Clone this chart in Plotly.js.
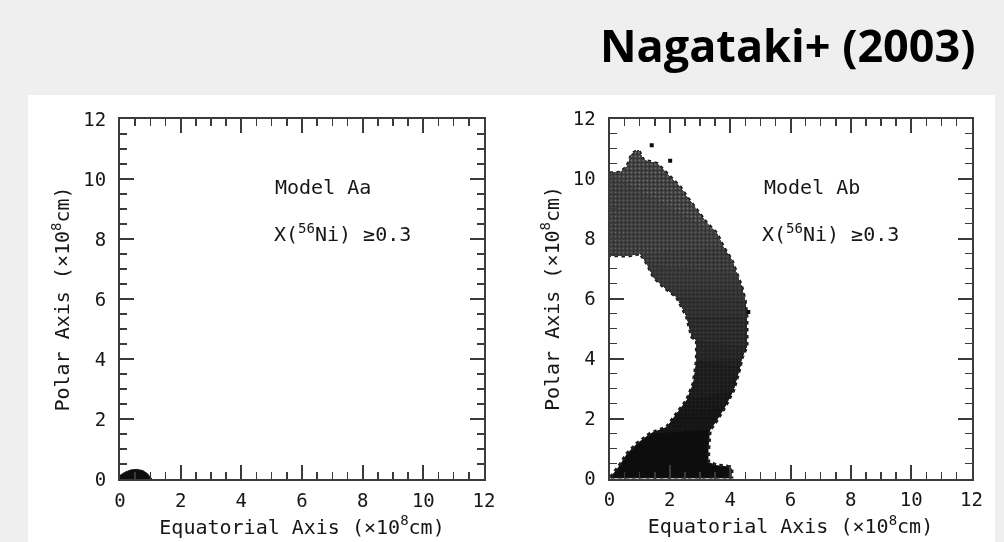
<!DOCTYPE html>
<html>
<head>
<meta charset="utf-8">
<script src="https://cdn.plot.ly/plotly-3.0.1.min.js"></script>
<style>
  html, body { margin: 0; padding: 0; background: #efefef; }
  #chart { width: 1004px; height: 542px; }
</style>
</head>
<body>
<div id="chart"></div>
<script>
// Model Aa: region with X(56Ni) >= 0.3 (units of 1e8 cm)
const modelAaX = [0, 0, 0.15, 0.35, 0.55, 0.75, 0.9, 1.0, 1.05, 0];
const modelAaY = [0, 0.12, 0.22, 0.30, 0.32, 0.28, 0.18, 0.08, 0, 0];

// Model Ab: outer edge of the 56Ni shell, from the pole down to the equator
const modelAbOuterX = [0, 0.12, 0.35, 0.58, 0.75, 0.96, 1.13, 1.57, 2.01, 2.34, 2.56, 2.89, 3.23, 3.56, 3.77,
  4.05, 4.22, 4.38, 4.49, 4.55, 4.55, 4.55, 4.38, 4.33, 4.11, 3.83, 3.56, 3.33, 3.28, 3.28, 3.56, 3.89, 4.05, 4.05];
const modelAbOuterY = [10.18, 10.18, 10.2, 10.39, 10.83, 10.94, 10.61, 10.5, 10.05, 9.72, 9.39, 8.94, 8.5, 8.17, 7.72,
  7.28, 6.83, 6.39, 5.94, 5.4, 4.94, 4.4, 4.0, 3.72, 2.94, 2.39, 1.94, 1.61, 0.94, 0.55, 0.44, 0.41, 0.33, 0];

// Model Ab: inner edge, from the equator back up to the pole
const modelAbInnerX = [0, 0.08, 0.3, 0.58, 0.91, 1.35, 1.9, 2.23, 2.56, 2.78, 2.89, 2.89, 2.73, 2.56, 2.23,
  1.79, 1.46, 1.24, 1.02, 0.6, 0];
const modelAbInnerY = [0, 0.11, 0.39, 0.83, 1.17, 1.5, 1.72, 2.17, 2.61, 3.17, 3.94, 4.61, 4.72, 5.39, 6.05,
  6.39, 6.72, 7.17, 7.5, 7.42, 7.44];

// Isolated cells outside the main shell
const strayX = [1.40, 2.01, 4.60];
const strayY = [11.11, 10.59, 5.55];

const tickVals = [0, 2, 4, 6, 8, 10, 12];
const tickText = ['0', '2', '4', '6', '8', '10', '12'];

const figTitle = 'Nagataki+ (2003)';
const xTitle = 'Equatorial Axis (×10<sup>8</sup>cm)';
const yTitle = 'Polar Axis (×10<sup>8</sup>cm)';
const modelLabels = ['Model Aa', 'Model Ab'];
const niLabel = 'X(<sup>56</sup>Ni) ≥0.3';

// shading bands for the Model Ab shell: lower y cut, fill colour, dot colour
const bandCuts = [1.4, 2.0, 2.6, 3.2, 3.8, 4.4, 5.0, 5.6, 6.2, 6.8, 7.4];
const bandColors = ['#111111', '#151515', '#191919', '#1d1d1d', '#212121', '#252525', '#292929', '#2c2c2c',
  '#2f2f2f', '#303030', '#313131'];
const bandDots = ['#1c1c1c', '#222222', '#282828', '#2e2e2e', '#343434', '#3a3a3a', '#404040', '#454545',
  '#4a4a4a', '#545454', '#5f5f5f'];
const capCut = 8.0;

const INK = '#161616';
const FRAME = '#3a3a3a';
const MONO = 'DejaVu Sans Mono, monospace';

// polygon of the shell part above a cut
function shellAbove(cut) {
  const xs = [], ys = [];
  modelAbOuterX.forEach((x, i) => { if (modelAbOuterY[i] >= cut) { xs.push(x); ys.push(modelAbOuterY[i]); } });
  modelAbInnerX.forEach((x, i) => { if (modelAbInnerY[i] >= cut) { xs.push(x); ys.push(modelAbInnerY[i]); } });
  xs.push(xs[0]); ys.push(ys[0]);
  return { x: xs, y: ys };
}

const traces = [];

traces.push({
  x: modelAaX, y: modelAaY, xaxis: 'x', yaxis: 'y',
  type: 'scatter', mode: 'lines', fill: 'toself',
  fillcolor: '#0c0c0c', line: { width: 1, color: '#0c0c0c' }, hoverinfo: 'skip'
});

// full shell, with a beaded edge like the cell grid
traces.push({
  x: modelAbOuterX.concat(modelAbInnerX), y: modelAbOuterY.concat(modelAbInnerY),
  xaxis: 'x2', yaxis: 'y2', type: 'scatter', mode: 'lines', fill: 'toself',
  fillcolor: '#0a0a0a', line: { width: 3.5, color: '#1c1c1c', dash: 'dot' }, hoverinfo: 'skip'
});

bandCuts.forEach((cut, k) => {
  const p = shellAbove(cut);
  traces.push({
    x: p.x, y: p.y, xaxis: 'x2', yaxis: 'y2', type: 'scatter', mode: 'lines', fill: 'toself',
    fillcolor: bandColors[k], line: { width: 0 },
    fillpattern: { shape: '.', bgcolor: bandColors[k], fgcolor: bandDots[k], size: 4, solidity: 0.3 },
    hoverinfo: 'skip'
  });
});

const cap = shellAbove(capCut);
traces.push({
  x: cap.x, y: cap.y, xaxis: 'x2', yaxis: 'y2', type: 'scatter', mode: 'lines', fill: 'toself',
  fillcolor: '#333333', line: { width: 0 },
  fillpattern: { shape: '.', bgcolor: '#323232', fgcolor: '#6e6e6e', size: 4, solidity: 0.3 },
  hoverinfo: 'skip'
});

traces.push({
  x: strayX, y: strayY, xaxis: 'x2', yaxis: 'y2', type: 'scatter', mode: 'markers',
  marker: { symbol: 'square', size: 4, color: '#111' }, hoverinfo: 'skip'
});

function axisBase(domain, anchor) {
  return {
    domain: domain, anchor: anchor, range: [0, 12],
    tickmode: 'array', tickvals: tickVals, ticktext: tickText,
    ticks: 'inside', ticklen: 14, tickwidth: 2, tickcolor: FRAME,
    showline: true, linewidth: 2, linecolor: FRAME, mirror: 'allticks',
    showgrid: false, zeroline: false, fixedrange: true,
    minor: { dtick: 0.5, tick0: 0, ticks: 'inside', ticklen: 7, tickwidth: 1.5, tickcolor: FRAME },
    tickfont: { family: MONO, size: 19, color: INK }
  };
}

const W = 1004, H = 542;
const xd1 = [120 / W, 484 / W], yd1 = [(H - 479) / H, (H - 119) / H];
const xd2 = [609.5 / W, 971.5 / W], yd2 = [(H - 478.5) / H, (H - 118.5) / H];

const titleFont = { family: MONO, size: 20, color: INK };

const layout = {
  width: W, height: H,
  margin: { l: 0, r: 0, t: 0, b: 0 },
  paper_bgcolor: '#efefef', plot_bgcolor: '#ffffff',
  showlegend: false,
  xaxis: Object.assign(axisBase(xd1, 'y'), { title: { text: xTitle, font: titleFont, standoff: 10 }, ticklabelstandoff: 3 }),
  yaxis: Object.assign(axisBase(yd1, 'x'), { title: { text: yTitle, font: titleFont, standoff: 8 }, ticklabelstandoff: 8 }),
  xaxis2: Object.assign(axisBase(xd2, 'y2'), { title: { text: xTitle, font: titleFont, standoff: 10 }, ticklabelstandoff: 3 }),
  yaxis2: Object.assign(axisBase(yd2, 'x2'), { title: { text: yTitle, font: titleFont, standoff: 8 }, ticklabelstandoff: 8 }),
  shapes: [
    { type: 'rect', xref: 'paper', yref: 'paper', x0: 28 / W, x1: 995 / W, y0: 0, y1: (H - 95) / H,
      fillcolor: '#ffffff', line: { width: 0 }, layer: 'below' }
  ],
  annotations: [
    { text: '<b>' + figTitle + '</b>', xref: 'paper', yref: 'paper', x: 978 / W, y: (H - 44) / H,
      xanchor: 'right', yanchor: 'middle', showarrow: false,
      font: { family: 'Open Sans, Liberation Sans, sans-serif', size: 45, color: '#000' } },
    { text: modelLabels[0], xref: 'x', yref: 'y', x: 5.05, y: 9.73, xanchor: 'left', yanchor: 'middle',
      showarrow: false, font: titleFont },
    { text: niLabel, xref: 'x', yref: 'y', x: 5.0, y: 8.2, xanchor: 'left', yanchor: 'middle',
      showarrow: false, font: titleFont },
    { text: modelLabels[1], xref: 'x2', yref: 'y2', x: 5.05, y: 9.73, xanchor: 'left', yanchor: 'middle',
      showarrow: false, font: titleFont },
    { text: niLabel, xref: 'x2', yref: 'y2', x: 5.0, y: 8.2, xanchor: 'left', yanchor: 'middle',
      showarrow: false, font: titleFont }
  ]
};

// soften the printed figure panels (axes, marks, labels); the slide heading stays sharp
function softenPanels(gd) {
  const NS = 'http://www.w3.org/2000/svg';
  gd.querySelectorAll('svg.main-svg').forEach((svg, k) => {
    let defs = svg.querySelector('defs');
    if (!defs) { defs = document.createElementNS(NS, 'defs'); svg.insertBefore(defs, svg.firstChild); }
    const f = document.createElementNS(NS, 'filter');
    f.setAttribute('id', 'soft' + k);
    f.setAttribute('x', '-5%'); f.setAttribute('y', '-5%');
    f.setAttribute('width', '110%'); f.setAttribute('height', '110%');
    const b = document.createElementNS(NS, 'feGaussianBlur');
    b.setAttribute('stdDeviation', '0.65');
    f.appendChild(b);
    defs.appendChild(f);
    const targets = svg.querySelectorAll(
      '.cartesianlayer, .g-xtitle, .g-ytitle, .g-x2title, .g-y2title, .annotation:not([data-index="0"])');
    targets.forEach(el => el.setAttribute('filter', 'url(#soft' + k + ')'));
  });
}

Plotly.newPlot('chart', traces, layout, { staticPlot: true, displayModeBar: false })
  .then(softenPanels);
</script>
</body>
</html>
